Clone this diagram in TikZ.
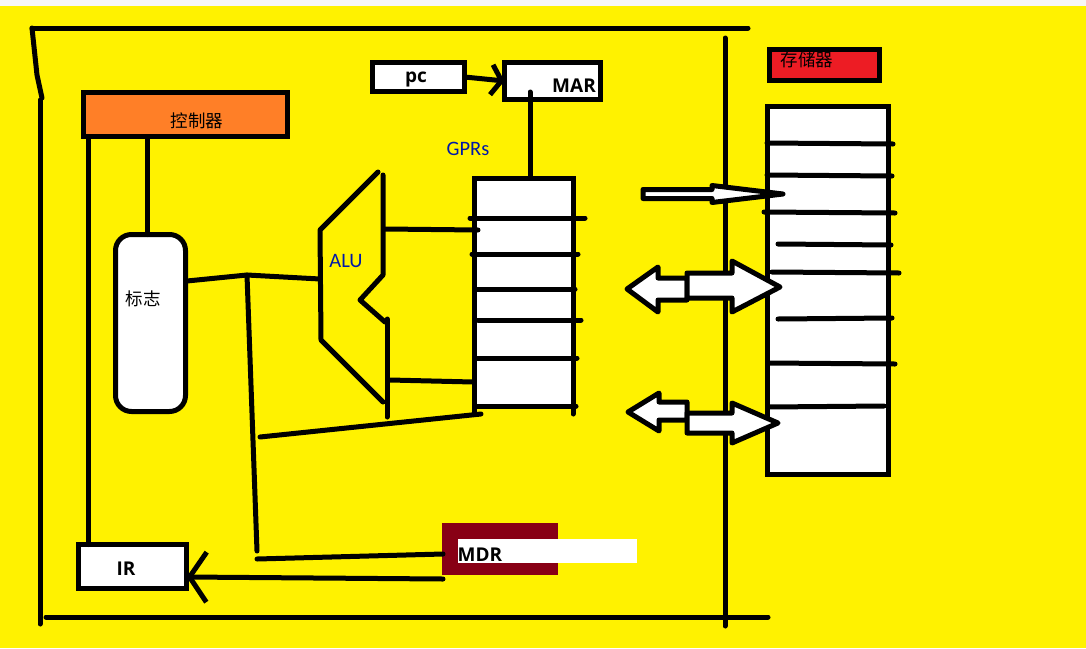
\documentclass[tikz,border=0pt]{standalone}
\usepackage{fontspec}
\setmainfont{Carlito}
\newfontfamily\cjkfont{Noto Sans CJK SC}
\newfontfamily\boldfont{Open Sans}
\usetikzlibrary{arrows.meta}
\definecolor{bgyellow}{HTML}{FFF200}
\definecolor{ctrlorange}{HTML}{FF7F27}
\definecolor{memred}{HTML}{ED1C24}
\definecolor{mdrred}{HTML}{880015}
\definecolor{textblue}{HTML}{0018A8}
\tikzset{
  wire/.style={line width=5pt,line cap=round,line join=round},
  box/.style={draw,line width=5pt,fill=white,inner sep=0pt,outer sep=0pt},
  blockarrow/.style={draw,line width=5pt,fill=white,line join=round},
  boldtext/.style={font=\boldfont\bfseries\fontsize{19}{19}\selectfont,inner sep=0pt},
  cjktext/.style={font=\cjkfont\fontsize{17.5}{17.5}\selectfont,inner sep=0pt},
  bluetext/.style={font=\fontsize{20.5}{20.5}\selectfont,text=textblue,inner sep=0pt}
}
\begin{document}
\begin{tikzpicture}[x=1pt,y=-1pt]
    \useasboundingbox (0,0) rectangle (1086,648);
    % Hintergrund:
    \fill[bgyellow] (0,6) rectangle (1086,648);
    \fill[black!3] (0,0) rectangle (1086,6);
    % Rahmen:
    \draw[wire] (32,28) -- (748,28); % oben
    \draw[wire] (32,28) -- (37,75) -- (42,98); % links oben
    \draw[wire] (40,100) -- (40,624); % links
    \draw[wire] (46,617) -- (768,617); % unten
    \draw[wire] (725,38) -- (725,626); % Trennlinie
    % Boxen:
    \node[box,fill=ctrlorange,minimum width=204pt,minimum height=44pt] (ctrl) at (185.5,114.5) {};
    \node[cjktext] (ctrllabel) at (197,121) {控制器};
    \node[box,minimum width=92pt,minimum height=29pt] (pc) at (418.5,77) {};
    \node[boldtext] (pclabel) at (416,79) {pc};
    \node[box,minimum width=96pt,minimum height=37pt] (mar) at (552.5,81) {};
    \node[boldtext] (marlabel) at (574,86) {MAR};
    \node[box,minimum width=70pt,minimum height=177pt,rounded corners=16pt] (flags) at (150.5,323) {};
    \node[cjktext] (flagslabel) at (143,299) {标志};
    \node[box,minimum width=108pt,minimum height=44pt] (ir) at (132.5,566.5) {};
    \node[boldtext] (irlabel) at (126,569) {IR};
    \node[fill=mdrred,inner sep=0pt,minimum width=116pt,minimum height=52pt] (mdr) at (500,549) {};
    \node[fill=white,inner sep=0pt,minimum width=179pt,minimum height=24pt] (mdrbar) at (547.5,551) {};
    \node[boldtext] (mdrlabel) at (480,555) {MDR};
    \node[bluetext] (gprslabel) at (468,149) {GPRs};
    % Register:
    \node[box,minimum width=99pt,minimum height=228pt] (gprs) at (524,292) {};
    \draw[wire] (470,218) -- (585,218);
    \draw[wire] (472,254) -- (578,254);
    \draw[wire] (477,289) -- (575,289);
    \draw[wire] (478,320) -- (581,320);
    \draw[wire] (477,358) -- (577,358);
    \draw[wire] (477,406) -- (576,406);
    \draw[wire] (474,406) -- (474,413);
    \draw[wire] (573,406) -- (573,414);
    % Speicher:
    \node[box,fill=memred,minimum width=110pt,minimum height=31pt] (memtitle) at (824.5,65) {};
    \node[cjktext] (memlabel) at (807,60) {存储器};
    \node[box,minimum width=121pt,minimum height=368pt] (mem) at (828,290.5) {};
    \draw[wire] (767,143) -- (893,144);
    \draw[wire] (767,175) -- (892,176);
    \draw[wire] (764,212) -- (895,213);
    \draw[wire] (778,244) -- (891,245);
    \draw[wire] (772,272) -- (899,273);
    \draw[wire] (778,319) -- (892,318);
    \draw[wire] (768,363) -- (895,364);
    \draw[wire] (768,407) -- (884,406);
    % ALU:
    \coordinate (alutop) at (378,172);
    \coordinate (aluleft) at (320,230);
    \coordinate (alubottom) at (321,340);
    \coordinate (aluright) at (383,402);
    \draw[wire] (alutop) -- (aluleft) -- (alubottom) -- (aluright);
    \draw[wire] (383,175) -- (383,275) -- (360,300) -- (385,322);
    \draw[wire] (387,319) -- (387,417);
    \node[bluetext] (alulabel) at (346,261) {ALU};
    % Verbindungen:
    \draw[wire,-{Straight Barb[length=10pt,width=30pt]}] (pc.east) -- (mar.west);
    \coordinate (marfoot) at (530,92);
    \draw[wire] (marfoot) -- (marfoot |- gprs.north);
    \coordinate (ctrlfoot) at (147,137);
    \draw[wire] (ctrlfoot) -- (ctrlfoot |- flags.north);
    \coordinate (ctrlleft) at (88,137);
    \draw[wire] (ctrlleft) -- (ctrlleft |- ir.north);
    \coordinate (junction) at (247,275);
    \coordinate (aluin) at (320,279);
    \draw[wire] (187,281) -- (junction) -- (aluin);
    \coordinate (mdrend) at (443,554);
    \coordinate (mdrwire) at (257,559);
    \draw[wire] (junction) -- (257,551);
    \draw[wire] (mdrwire) -- (mdrend);
    \draw[wire] (385,229) -- (478,230);
    \draw[wire] (390,380) -- (473,382);
    \draw[wire] (260,437) -- (481,414);
    \coordinate (mdrlow) at (443,579);
    \draw[wire,-{Straight Barb[length=17pt,width=50pt]}] (mdrlow) -- (ir.east |- 0,577);
    % Blockpfeile:
    \draw[blockarrow] (643,189.5) -- (712,189.5) -- (712,185.5) -- (783,194) -- (712,202.5) -- (712,198.5) -- (643,198.5) -- cycle;
    \draw[blockarrow] (627,289) -- (658,267) -- (658,278) -- (687,278) -- (687,300) -- (658,300) -- (658,312) -- cycle;
    \draw[blockarrow] (687,273) -- (732,273) -- (732,261) -- (780,287) -- (732,312) -- (732,298) -- (687,298) -- cycle;
    \draw[blockarrow] (628,412) -- (659,393) -- (659,402) -- (687,402) -- (687,420) -- (659,420) -- (659,431) -- cycle;
    \draw[blockarrow] (687,413) -- (732,413) -- (732,403) -- (778,423) -- (732,443) -- (732,433) -- (687,433) -- cycle;
\end{tikzpicture}
\end{document}
